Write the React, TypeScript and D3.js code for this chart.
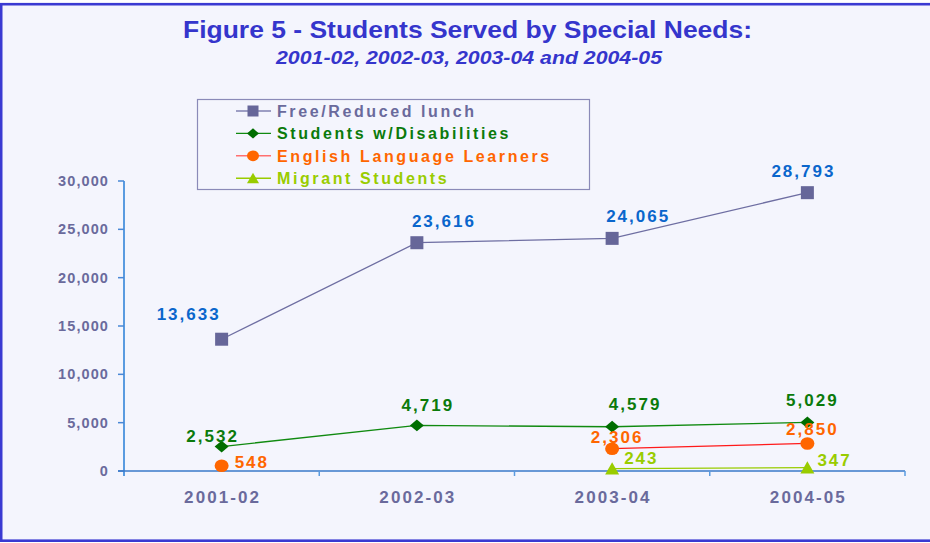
import React from "react";
import * as d3 from "d3";

const categories = ["2001-02", "2002-03", "2003-04", "2004-05"];
const freeReduced = [13633, 23616, 24065, 28793];
const disabilities = [2532, 4719, 4579, 5029];
const ell: (number | null)[] = [548, null, 2306, 2850];
const migrant: (number | null)[] = [null, null, 243, 347];
const yTicks = [0, 5000, 10000, 15000, 20000, 25000, 30000];

const seriesNames = [
  "Free/Reduced lunch",
  "Students w/Disabilities",
  "English Language Learners",
  "Migrant Students",
];

// label offsets (dx, dy, anchor) per point, style only
const labelOffsets: [number, number, string][][] = [
  [[-34, -25, "middle"], [26, -21, "middle"], [25, -22, "middle"], [-5, -21, "middle"]],
  [[-10, -10, "middle"], [10, -20, "middle"], [22, -22, "middle"], [4, -22, "middle"]],
  [[13, -3, "start"], [0, 0, "middle"], [4, -11, "middle"], [4, -14, "middle"]],
  [[0, 0, "start"], [0, 0, "start"], [12, -10, "start"], [10, -7, "start"]],
];

const W = 930;
const H = 543;
const BG = "#F4F5FD";

type S = {
  name: string;
  values: (number | null)[];
  marker: string;
  markerColor: string;
  lineColor: string;
  legendLine: string;
  labelColor: string;
  textColor: string;
};

const series: S[] = [
  { name: seriesNames[0], values: freeReduced, marker: "square", markerColor: "#666699", lineColor: "#6E6EA2", legendLine: "#8080B0", labelColor: "#0A66CC", textColor: "#6A6A9C" },
  { name: seriesNames[1], values: disabilities, marker: "diamond", markerColor: "#006E00", lineColor: "#108A10", legendLine: "#108A10", labelColor: "#0B7A0B", textColor: "#0B7A0B" },
  { name: seriesNames[2], values: ell, marker: "circle", markerColor: "#FF6600", lineColor: "#FF1A1A", legendLine: "#FF7070", labelColor: "#FF6600", textColor: "#FF6600" },
  { name: seriesNames[3], values: migrant, marker: "triangle", markerColor: "#99CC00", lineColor: "#99CC00", legendLine: "#99CC00", labelColor: "#99CC00", textColor: "#99CC00" },
];

function Marker({ type, x, y, color, s }: { type: string; x: number; y: number; color: string; s: number }) {
  if (type === "square") return <rect x={x - s / 2} y={y - s / 2} width={s} height={s} fill={color} />;
  if (type === "diamond")
    return <path d={`M${x},${y - s * 0.42} L${x + s / 2},${y} L${x},${y + s * 0.42} L${x - s / 2},${y} Z`} fill={color} />;
  if (type === "circle") return <ellipse cx={x} cy={y} rx={s / 2} ry={s * 0.45} fill={color} />;
  return <path d={`M${x},${y - s * 0.45} L${x + s / 2},${y + s * 0.42} L${x - s / 2},${y + s * 0.42} Z`} fill={color} />;
}

export default function App() {
  const x = d3.scaleBand<string>().domain(categories).range([124, 905]).padding(0);
  const y = d3.scaleLinear().domain([0, 30000]).range([471, 181]);
  const cx = (c: string) => (x(c) as number) + x.bandwidth() / 2;
  const fmt = d3.format(",");

  const line = d3
    .line<number | null>()
    .defined((d) => d !== null)
    .x((_, i) => cx(categories[i]))
    .y((d) => y(d as number));

  const font = "'Liberation Sans', Arial, sans-serif";

  return (
    <svg width={W} height={H} style={{ position: "absolute", left: 0, top: 0, display: "block" }} fontFamily={font}>
      <rect x={0} y={0} width={W} height={H} fill="#FFFFFF" />
      <rect x={1.2} y={4.2} width={W + 10} height={H - 6.5} fill={BG} stroke="#3A3AD2" strokeWidth={2.6} />

      <text x={183} y={38} fontSize={24} fontWeight="bold" fill="#3535CC" textLength={569} lengthAdjust="spacingAndGlyphs">
        Figure 5 - Students Served by Special Needs:
      </text>
      <text x={276} y={64} fontSize={18.5} fontWeight="bold" fontStyle="italic" fill="#3535CC" textLength={386} lengthAdjust="spacingAndGlyphs">
        2001-02, 2002-03, 2003-04 and 2004-05
      </text>

      {/* Legend */}
      <rect x={197.5} y={99.5} width={392} height={90} fill={BG} stroke="#8A8AB8" strokeWidth={1.2} />
      {series.map((s, i) => {
        const ly = 111 + i * 22.4;
        return (
          <g key={s.name}>
            <line x1={236} x2={271} y1={ly} y2={ly} stroke={s.legendLine} strokeWidth={1.4} />
            <Marker type={s.marker} x={253} y={ly} color={s.markerColor} s={s.marker === "square" ? 11 : 12} />
            <text x={277} y={ly + 0.5} dominantBaseline="central" fontSize={16} fontWeight="bold" letterSpacing={2.6} fill={s.textColor}>
              {s.name}
            </text>
          </g>
        );
      })}

      {/* Y axis */}
      <line x1={124} x2={124} y1={181} y2={476} stroke="#5A9BE0" strokeWidth={2} />
      {yTicks.map((t) => (
        <g key={t}>
          <line x1={118} x2={124} y1={y(t)} y2={y(t)} stroke="#4A88D6" strokeWidth={1.5} />
          <text x={109} y={y(t)} textAnchor="end" dominantBaseline="central" fontSize={14.5} fontWeight="bold" letterSpacing={1.1} fill="#6A6A9C">
            {fmt(t)}
          </text>
        </g>
      ))}

      {/* X axis */}
      <line x1={118} x2={905} y1={471} y2={471} stroke="#3A78C8" strokeWidth={1.6} />
      {categories.map((c) => (
        <g key={c}>
          <line x1={(x(c) as number) + x.bandwidth()} x2={(x(c) as number) + x.bandwidth()} y1={471} y2={476} stroke="#5A9BE0" strokeWidth={1.5} />
          <text x={cx(c) + 1} y={497} textAnchor="middle" dominantBaseline="central" fontSize={17} fontWeight="bold" letterSpacing={2.1} fill="#6A6A9C">
            {c}
          </text>
        </g>
      ))}

      {/* Lines */}
      {series.map((s) => (
        <path key={s.name + "l"} d={line(s.values) || ""} fill="none" stroke={s.lineColor} strokeWidth={1.3} />
      ))}
      {/* Markers */}
      {series.map((s) =>
        s.values.map((v, i) =>
          v === null ? null : (
            <Marker key={s.name + i} type={s.marker} x={cx(categories[i])} y={y(v)} color={s.markerColor} s={s.marker === "square" ? 13 : 14} />
          )
        )
      )}
      {/* Labels */}
      {series.map((s, si) =>
        s.values.map((v, i) => {
          if (v === null) return null;
          const [dx, dy, anchor] = labelOffsets[si][i];
          return (
            <text
              key={s.name + "t" + i}
              x={cx(categories[i]) + dx + (anchor === "middle" ? 1 : 0)}
              y={y(v) + dy}
              textAnchor={anchor}
              dominantBaseline="central"
              fontSize={17}
              fontWeight="bold"
              letterSpacing={2.0}
              fill={s.labelColor}
            >
              {fmt(v)}
            </text>
          );
        })
      )}
    </svg>
  );
}
